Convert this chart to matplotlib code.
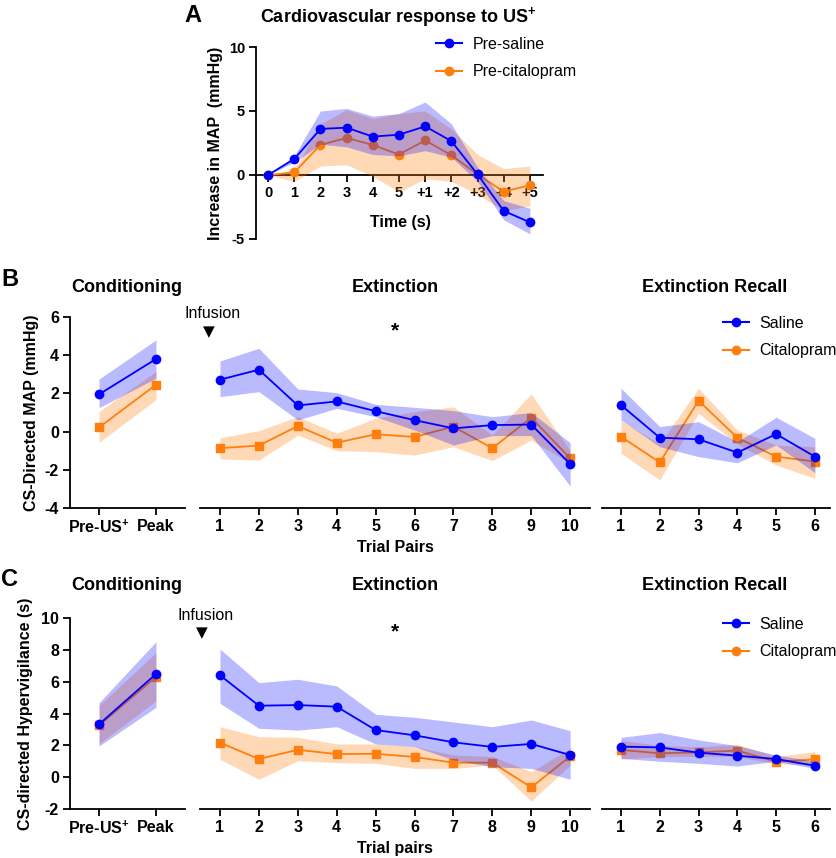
import numpy as np
import matplotlib
matplotlib.use("Agg")
import matplotlib.pyplot as plt
from matplotlib.lines import Line2D

plt.rcParams['font.family'] = ['Liberation Sans', 'DejaVu Sans']
plt.rcParams['mathtext.fontset'] = 'custom'
plt.rcParams['mathtext.rm'] = 'Liberation Sans'
plt.rcParams['mathtext.bf'] = 'Liberation Sans:bold'
plt.rcParams['axes.unicode_minus'] = False

# ---------------------------------------------------------------- data
# Panel A: cardiovascular response to US+
a_labels = ['0', '1', '2', '3', '4', '5', '+1', '+2', '+3', '+4', '+5']
a_sal = [0, 1.25, 3.6, 3.7, 3.0, 3.15, 3.8, 2.65, 0.05, -2.8, -3.7]
a_sal_hi = [0, 1.5, 5.0, 5.2, 4.6, 4.8, 5.7, 4.0, 0.6, -2.0, -2.6]
a_sal_lo = [0, 1.0, 2.4, 2.2, 1.6, 1.5, 1.9, 1.4, -0.5, -3.5, -4.6]
a_cit = [0, 0.2, 2.35, 2.9, 2.35, 1.6, 2.7, 1.55, 0.05, -1.3, -0.8]
a_cit_hi = [0, 0.4, 4.0, 5.1, 4.4, 4.8, 5.0, 3.6, 1.6, 0.5, 0.7]
a_cit_lo = [0, -0.5, 0.7, 0.8, -0.1, -1.3, -0.3, -0.5, -1.5, -2.8, -2.4]

# Panel B: CS-directed MAP
cond_labels = [r'Pre-US$^{\mathbf{+}}$', 'Peak']
b_cond_sal = [1.95, 3.8]
b_cond_sal_hi = [2.75, 4.8]
b_cond_sal_lo = [1.25, 2.8]
b_cond_cit = [0.22, 2.45]
b_cond_cit_hi = [1.05, 3.15]
b_cond_cit_lo = [-0.56, 1.67]

ext_trials = np.arange(1, 11)
b_ext_sal = [2.72, 3.24, 1.37, 1.58, 1.07, 0.6, 0.17, 0.34, 0.37, -1.7]
b_ext_sal_hi = [3.7, 4.36, 2.23, 2.04, 1.43, 1.27, 1.1, 0.78, 1.0, -0.58]
b_ext_sal_lo = [1.83, 2.09, 0.61, 1.22, 0.78, 0.08, -0.7, -0.21, -0.21, -2.85]
b_ext_cit = [-0.87, -0.73, 0.29, -0.58, -0.14, -0.28, 0.26, -0.87, 0.73, -1.4]
b_ext_cit_hi = [-0.32, 0.05, 0.78, -0.09, 0.7, 1.04, 1.3, -0.18, 1.97, -1.0]
b_ext_cit_lo = [-1.43, -1.49, -0.18, -1.0, -1.05, -1.23, -0.79, -1.52, -0.44, -1.66]

rec_trials = np.arange(1, 7)
b_rec_sal = [1.39, -0.32, -0.4, -1.1, -0.13, -1.31]
b_rec_sal_hi = [2.27, 0.26, 0.52, -0.53, 0.75, -0.35]
b_rec_sal_lo = [0.61, -0.79, -1.31, -1.63, -0.7, -2.15]
b_rec_cit = [-0.27, -1.61, 1.62, -0.32, -1.31, -1.57]
b_rec_cit_hi = [0.57, -0.65, 2.27, 0.08, -0.7, -0.8]
b_rec_cit_lo = [-1.14, -2.53, 0.96, -0.65, -1.75, -2.45]

# Panel C: CS-directed hypervigilance
c_cond_sal = [3.32, 6.48]
c_cond_sal_hi = [4.68, 8.51]
c_cond_sal_lo = [1.96, 4.39]
c_cond_cit = [3.25, 6.3]
c_cond_cit_hi = [4.5, 7.82]
c_cond_cit_lo = [2.1, 4.8]

c_ext_sal = [6.4, 4.49, 4.53, 4.43, 2.96, 2.63, 2.19, 1.9, 2.09, 1.39]
c_ext_sal_hi = [8.05, 5.94, 6.15, 5.73, 3.95, 3.76, 3.47, 3.17, 3.59, 2.92]
c_ext_sal_lo = [4.64, 3.07, 2.96, 3.17, 2.09, 1.92, 1.08, 0.66, 0.55, -0.13]
c_ext_cit = [2.17, 1.14, 1.72, 1.45, 1.47, 1.27, 0.91, 0.91, -0.64, 1.31]
c_ext_cit_hi = [3.17, 2.54, 2.5, 2.09, 2.09, 1.92, 1.39, 1.3, 0.34, 1.81]
c_ext_cit_lo = [1.12, -0.13, 1.03, 0.91, 0.87, 0.55, 0.55, 0.76, -1.5, 0.76]

c_rec_sal = [1.92, 1.87, 1.54, 1.35, 1.14, 0.72]
c_rec_sal_hi = [2.5, 2.8, 2.34, 1.98, 1.39, 1.0]
c_rec_sal_lo = [1.18, 1.0, 0.87, 0.7, 1.0, 0.55]
c_rec_cit = [1.71, 1.5, 1.56, 1.67, 0.97, 1.12]
c_rec_cit_hi = [2.3, 2.0, 1.9, 2.06, 1.3, 1.6]
c_rec_cit_lo = [1.13, 1.3, 1.3, 1.3, 0.84, 0.76]

# ---------------------------------------------------------------- style
BLUE = '#0000FF'
ORANGE = '#FF7F0E'
W, H = 837, 858

fig = plt.figure(figsize=(W / 100, H / 100), dpi=100)


def px(x, y):
    return x / W, 1 - y / H


def add_ax(l, t, r, b):
    return fig.add_axes([l / W, 1 - b / H, (r - l) / W, (b - t) / H])


def style(ax, left=True, size=11.5):
    for s in ['top', 'right']:
        ax.spines[s].set_visible(False)
    for s in ['left', 'bottom']:
        ax.spines[s].set_linewidth(1.3)
    if not left:
        ax.spines['left'].set_visible(False)
        ax.set_yticks([])
    ax.tick_params(direction='out', length=5, width=1.3, labelsize=size, pad=3)
    for lab in ax.get_xticklabels() + ax.get_yticklabels():
        lab.set_fontweight('bold')


def series(ax, x, cit, cit_hi, cit_lo, sal, sal_hi, sal_lo, cmark='s'):
    ax.fill_between(x, cit_lo, cit_hi, color=ORANGE, alpha=0.3, lw=0, zorder=3)
    ax.plot(x, cit, color=ORANGE, marker=cmark, ms=6, lw=1.3, zorder=3.1, clip_on=False)
    ax.fill_between(x, sal_lo, sal_hi, color=BLUE, alpha=0.27, lw=0, zorder=3.2)
    ax.plot(x, sal, color=BLUE, marker='o', ms=6, lw=1.3, zorder=3.3, clip_on=False)


def legend(x, y, labels):
    handles = [Line2D([], [], color=BLUE, marker='o', ms=6, lw=1.5),
               Line2D([], [], color=ORANGE, marker='o', ms=6, lw=1.5)]
    fig.legend(handles, labels, loc='center left', bbox_to_anchor=px(x, y),
               frameon=False, fontsize=11.5, handlelength=1.6, handletextpad=0.7,
               labelspacing=0.8, borderpad=0, borderaxespad=0)


# ---------------------------------------------------------------- panel A
axA = add_ax(256, 47, 543, 239)
xa = np.arange(len(a_labels))
series(axA, xa, a_cit, a_cit_hi, a_cit_lo, a_sal, a_sal_hi, a_sal_lo, cmark='o')
axA.set_xlim(-0.46, 10.5)
axA.set_ylim(-5, 10)
axA.set_yticks([-5, 0, 5, 10])
axA.set_xticks(xa)
axA.set_xticklabels(a_labels)
axA.spines['bottom'].set_position(('data', 0))
style(axA, size=10.5)
fig.text(*px(398, 17), r'Cardiovascular response to US$^{\mathbf{+}}$',
         fontsize=13, fontweight='bold', ha='center', va='center')
fig.text(*px(193, 15), 'A', fontsize=17, fontweight='bold', ha='center', va='center')
fig.text(*px(216, 143), 'Increase in MAP  (mmHg)', fontsize=11.5, fontweight='bold',
         rotation=90, ha='center', va='center')
fig.text(*px(400, 222), 'Time (s)', fontsize=11.5, fontweight='bold',
         ha='center', va='center')
legend(436, 58, ['Pre-saline', 'Pre-citalopram'])


# ---------------------------------------------------------------- panels B, C
def row(top, bot, ylim, yticks, cond, ext, rec, ylabel, xlabel, letter, ty, lab_y,
        inf_y, xl_y, ylab_x):
    ax1 = add_ax(70, top, 185, bot)
    series(ax1, [0, 1], *cond)
    ax1.set_xlim(-0.51, 1.51)
    ax1.set_ylim(*ylim)
    ax1.set_yticks(yticks)
    ax1.set_xticks([0, 1])
    ax1.set_xticklabels(cond_labels)
    style(ax1)

    ax2 = add_ax(200, top, 590, bot)
    series(ax2, ext_trials, *ext)
    ax2.set_xlim(0.486, 10.51)
    ax2.set_ylim(*ylim)
    ax2.set_xticks(ext_trials)
    style(ax2, left=False)

    ax3 = add_ax(602, top, 830, bot)
    series(ax3, rec_trials, *rec)
    ax3.set_xlim(0.51, 6.39)
    ax3.set_ylim(*ylim)
    ax3.set_xticks(rec_trials)
    style(ax3, left=False)

    fig.text(*px(127, ty), 'Conditioning', fontsize=13, fontweight='bold',
             ha='center', va='center')
    fig.text(*px(395, ty), 'Extinction', fontsize=13, fontweight='bold',
             ha='center', va='center')
    fig.text(*px(715, ty), 'Extinction Recall', fontsize=13, fontweight='bold',
             ha='center', va='center')
    fig.text(*px(10, ty - 7), letter, fontsize=17, fontweight='bold',
             ha='center', va='center')
    fig.text(*px(ylab_x, (top + bot) / 2), ylabel, fontsize=11.5, fontweight='bold',
             rotation=90, ha='center', va='center')
    fig.text(*px(395, xl_y), xlabel, fontsize=11.5, fontweight='bold',
             ha='center', va='center')
    fig.text(*px(inf_y[0], inf_y[1]), 'Infusion', fontsize=11.5, ha='center', va='center')
    fig.text(*px(inf_y[0] - 4, inf_y[1] + 18), '\u25BC', fontsize=11,
             family='DejaVu Sans', ha='center', va='center')
    fig.text(*px(395, inf_y[1] + 17), '*', fontsize=15, fontweight='bold',
             ha='center', va='center')
    legend(723, lab_y, ['Saline', 'Citalopram'])


row(317, 508, (-4, 6), [-4, -2, 0, 2, 4, 6],
    (b_cond_cit, b_cond_cit_hi, b_cond_cit_lo, b_cond_sal, b_cond_sal_hi, b_cond_sal_lo),
    (b_ext_cit, b_ext_cit_hi, b_ext_cit_lo, b_ext_sal, b_ext_sal_hi, b_ext_sal_lo),
    (b_rec_cit, b_rec_cit_hi, b_rec_cit_lo, b_rec_sal, b_rec_sal_hi, b_rec_sal_lo),
    'CS-Directed MAP (mmHg)', 'Trial Pairs', 'B', 287, 337, (213, 314), 548, 32)

row(618, 809, (-2, 10), [-2, 0, 2, 4, 6, 8, 10],
    (c_cond_cit, c_cond_cit_hi, c_cond_cit_lo, c_cond_sal, c_cond_sal_hi, c_cond_sal_lo),
    (c_ext_cit, c_ext_cit_hi, c_ext_cit_lo, c_ext_sal, c_ext_sal_hi, c_ext_sal_lo),
    (c_rec_cit, c_rec_cit_hi, c_rec_cit_lo, c_rec_sal, c_rec_sal_hi, c_rec_sal_lo),
    'CS-directed Hypervigilance (s)', 'Trial pairs', 'C', 586, 638, (206, 615), 848, 26)

fig.savefig('out.png', dpi=100)
